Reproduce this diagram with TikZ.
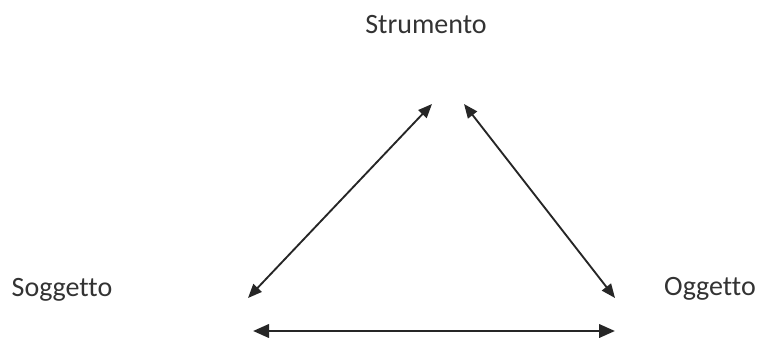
\documentclass[tikz,border=0pt]{standalone}
\usepackage{fontspec}
\setmainfont{Carlito}[Ligatures=NoCommon]
\usetikzlibrary{arrows.meta, positioning}

\begin{document}
\begin{tikzpicture}[
    x=0.75pt, y=-0.75pt,
    label/.style={font=\fontsize{21}{25}\selectfont, text=black!80, inner sep=0pt},
    arrow/.style={{Triangle[length=10.5pt,width=8.5pt]}-{Triangle[length=10.5pt,width=8.5pt]}, line width=1.4pt, draw=black!85},
    base/.style={{Triangle[length=12pt,width=10pt]}-{Triangle[length=12pt,width=10pt]}, line width=2.1pt, draw=black!85}
]
\useasboundingbox (0,0) rectangle (759,338);

\node (strumento) [label] at (426,25) {Strumento};
\node (soggetto) [label] at (62,290) {Soggetto};
\node (oggetto) [label] at (710,289) {Oggetto};

% arrow ends
\coordinate (sl) at (248,298);
\coordinate (tl) at (432,104);
\coordinate (tr) at (464,104);
\coordinate (or) at (615,298);
\coordinate (bl) at (253,331);
\coordinate (br) at (615,331);

\draw [arrow] (sl) -- (tl);
\draw [arrow] (tr) -- (or);
\draw [base] (bl) -- (br);
\end{tikzpicture}
\end{document}
